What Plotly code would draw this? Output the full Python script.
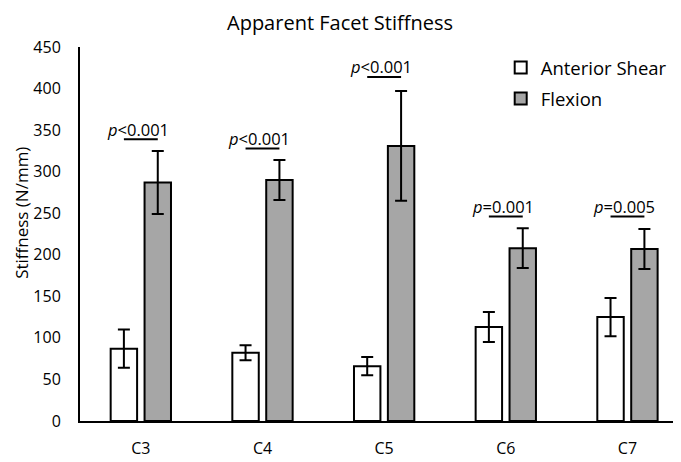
import plotly.graph_objects as go

categories = ["C3", "C4", "C5", "C6", "C7"]
shear_vals = [87, 82, 66, 113, 125]
shear_err = [23, 9, 11, 18, 23]
flex_vals = [287, 290, 331, 208, 207]
flex_err = [38, 24, 66, 24, 24]
p_labels = ["<i>p</i>&lt;0.001", "<i>p</i>&lt;0.001", "<i>p</i>&lt;0.001",
            "<i>p</i>=0.001", "<i>p</i>=0.005"]
p_levels = [339, 328, 414, 246, 246]

FONT = "Open Sans"
BARGAP = 0.443
BARGROUPGAP = 0.22

fig = go.Figure()
fig.add_trace(go.Bar(
    name="Anterior Shear", x=categories, y=shear_vals, legendgroup="a",
    marker=dict(color="white", line=dict(color="black", width=2)),
    error_y=dict(type="data", array=shear_err, color="black", thickness=2, width=6),
))
fig.add_trace(go.Bar(
    name="Flexion", x=categories, y=flex_vals, legendgroup="b",
    marker=dict(color="#A6A6A6", line=dict(color="black", width=2)),
    error_y=dict(type="data", array=flex_err, color="black", thickness=2, width=6),
))

off = (1 - BARGAP) / 4
for i, (lab, lvl) in enumerate(zip(p_labels, p_levels)):
    fig.add_shape(type="line", xref="x", yref="y", x0=i - off, x1=i + off,
                  y0=lvl, y1=lvl, line=dict(color="black", width=2))
    fig.add_annotation(x=i, y=lvl, xref="x", yref="y", text=lab, showarrow=False,
                       yanchor="middle", yshift=10, xshift=-3,
                       font=dict(family=FONT, size=16.5, color="black"))

fig.add_annotation(text="Stiffness (N/mm)", textangle=-90, xref="paper", yref="paper",
                   x=-0.0985, y=0.556, showarrow=False, xanchor="center", yanchor="middle",
                   font=dict(family=FONT, size=17, color="black"))

fig.update_layout(
    width=673, height=454,
    margin=dict(l=72, r=0, t=39, b=41),
    paper_bgcolor="white", plot_bgcolor="white",
    barmode="group", bargap=BARGAP, bargroupgap=BARGROUPGAP,
    title=dict(text="Apparent Facet Stiffness", x=0.4933, xref="container", xanchor="center",
               y=0.967, yref="container", yanchor="middle",
               font=dict(family=FONT, size=20, color="black")),
    font=dict(family=FONT, color="black"),
    legend=dict(x=0.7, y=0.995, xanchor="left", yanchor="top",
                font=dict(family=FONT, size=18.5, color="black"),
                traceorder="grouped", tracegroupgap=4,
                bgcolor="rgba(0,0,0,0)", itemwidth=30),
    showlegend=True,
)
fig.update_xaxes(type="category", range=[-0.5, 4.44], showline=True, linecolor="black",
                 linewidth=2, ticks="", showgrid=False, zeroline=False,
                 tickfont=dict(family=FONT, size=16, color="black"), ticklabelstandoff=12)
fig.update_yaxes(range=[0, 450], dtick=50, showline=True, linecolor="black", linewidth=2,
                 ticks="", showgrid=False, zeroline=False,
                 tickfont=dict(family=FONT, size=16, color="black"), ticklabelstandoff=14)

fig.write_html("out.html")
